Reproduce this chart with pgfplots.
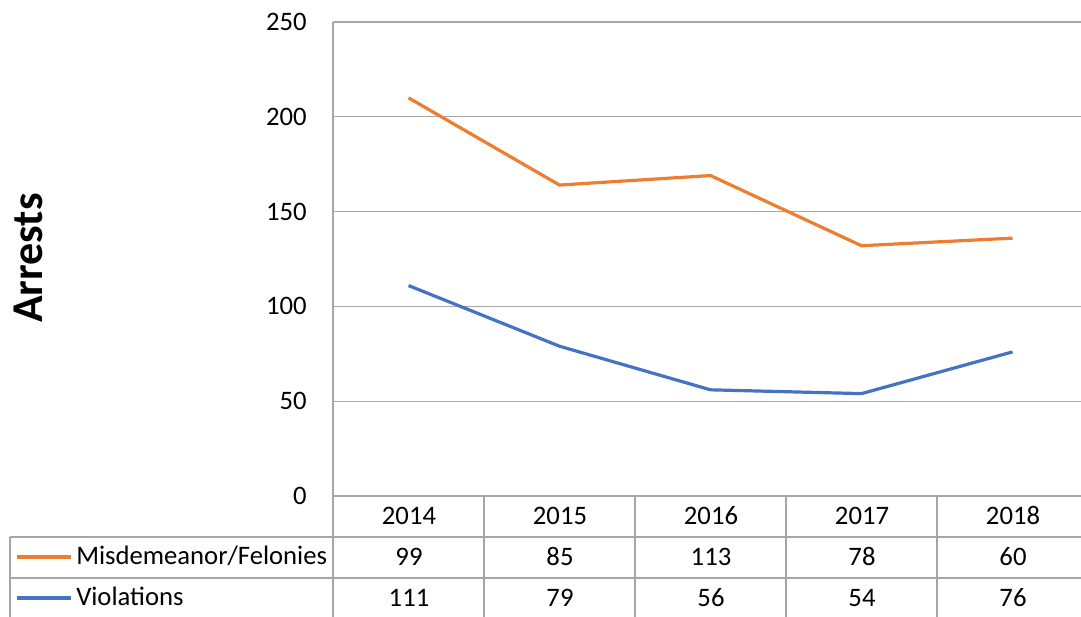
\documentclass[border=0pt]{standalone}
\usepackage{fontspec}
\setmainfont{Carlito}
\usepackage{pgfplots}
\pgfplotsset{compat=1.18}
\definecolor{orangeL}{HTML}{ED7D31}
\definecolor{blueL}{HTML}{4472C4}
\definecolor{gridc}{RGB}{166,166,166}
\begin{document}
\begin{tikzpicture}[x=0.75pt,y=0.75pt]
\useasboundingbox (0,0) rectangle (1081,617);
\begin{axis}[
  at={(249.75pt,90.75pt)}, anchor=south west,
  scale only axis, width=566.25pt, height=355.5pt,
  xmin=-0.5, xmax=4.5, ymin=0, ymax=250,
  ytick={0,50,100,150,200,250},
  xtick=\empty,
  axis line style={draw=none},
  major tick length=0pt,
  ymajorgrids, grid style={gridc, line width=1pt},
  yticklabel style={anchor=east, inner sep=0pt, xshift=-19.5pt, font=\fontsize{20}{24}\selectfont},
  /pgf/number format/assume math mode=true,
  stack plots=y,
  clip=false,
]
\addplot[blueL, line width=2.4pt, line join=round] coordinates {(0,111) (1,79) (2,56) (3,54) (4,76)};
\addplot[orangeL, line width=2.4pt, line join=round] coordinates {(0,99) (1,85) (2,113) (3,78) (4,60)};
\end{axis}
% data table
\begin{scope}[gridc, line width=1pt]
\draw (333,595) -- (333,0);
\draw (333,121) -- (1090,121);
\draw (10,80) -- (1090,80);
\draw (10,39) -- (1090,39);
\draw (10,80) -- (10,0);
\foreach \x in {484,635,786,937} \draw (\x,121) -- (\x,0);
\end{scope}
\begin{scope}[font=\fontsize{20}{24}\selectfont, inner sep=0pt]
\foreach \y/\i in {2014/0,2015/1,2016/2,2017/3,2018/4}
  \node[anchor=base] at (409+151*\i,92) {\y};
\foreach \v/\i in {99/0,85/1,113/2,78/3,60/4}
  \node[anchor=base] at (409+151*\i,51) {\v};
\foreach \v/\i in {111/0,79/1,56/2,54/3,76/4}
  \node[anchor=base] at (409+151*\i,10) {\v};
\draw[orangeL, line width=2.4pt] (17,60) -- (71,60);
\draw[blueL, line width=2.4pt] (17,19) -- (71,19);
\node[anchor=base west] at (76,52) {Misdemeanor/Felonies};
\node[anchor=base west] at (76,11) {Violations};
\end{scope}
\node[rotate=90, font=\fontsize{33}{38}\selectfont\bfseries, inner sep=0pt] at (28,359) {Arrests};
\end{tikzpicture}
\end{document}
